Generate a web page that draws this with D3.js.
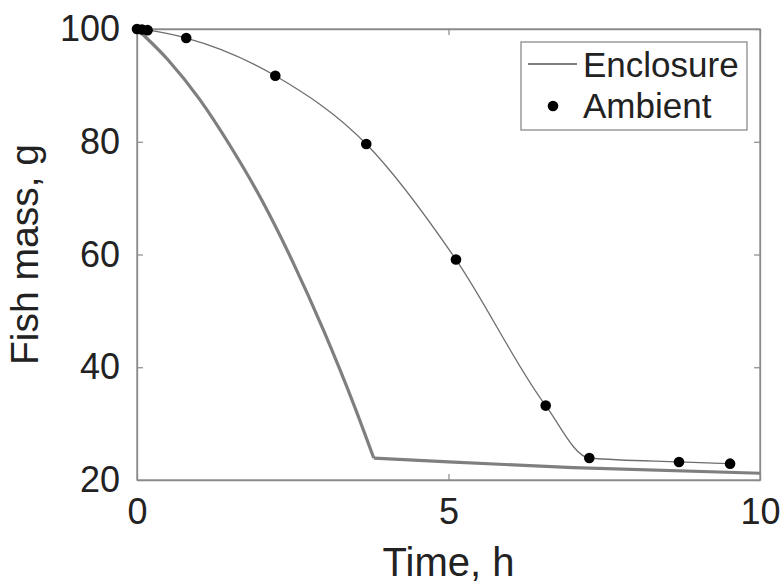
<!DOCTYPE html>
<html>
<head>
<meta charset="utf-8">
<script src="https://cdn.jsdelivr.net/npm/d3@7"></script>
<style>
  body { margin: 0; background: #fff; }
  text { font-family: "Liberation Sans", Arial, sans-serif; fill: #222; }
</style>
</head>
<body>
<div id="graph-container"></div>
<script>
const width = 782, height = 583;

// Enclosure model curve
const enclosureTime = [0, 0.5, 1.0, 1.5, 2.0, 2.5, 3.0, 3.5, 3.8, 5, 7, 10];
const enclosureMass = [100, 94.5, 87.6, 79.2, 69.7, 58.7, 46.4, 32.8, 23.9, 23.2, 22.2, 21.2];
const cornerIndex = 8; // where the curve turns flat

// Ambient measurements
const ambientTime = [0, 0.08, 0.17, 0.79, 2.22, 3.68, 5.12, 6.56, 7.26, 8.7, 9.52];
const ambientMass = [100, 99.9, 99.8, 98.4, 91.7, 79.6, 59.1, 33.2, 23.9, 23.2, 22.9];

const xTicks = [0, 5, 10];
const yTicks = [20, 40, 60, 80, 100];

const enclosure = enclosureTime.map((t, i) => ({t, m: enclosureMass[i]}));
const ambient = ambientTime.map((t, i) => ({t, m: ambientMass[i]}));

const x = d3.scaleLinear().domain([0, 10]).range([137, 760]);
const y = d3.scaleLinear().domain([20, 100]).range([480, 29]);

const axisColor = "#8a8a8a";

const svg = d3.select("#graph-container").append("svg")
  .attr("width", width)
  .attr("height", height)
  .attr("viewBox", [0, 0, width, height]);

// box
svg.append("rect")
  .attr("x", x(0)).attr("y", y(100))
  .attr("width", x(10) - x(0)).attr("height", y(20) - y(100))
  .attr("fill", "none").attr("stroke", axisColor).attr("stroke-width", 1.3);

// axes with inward ticks
const gx = svg.append("g")
  .attr("transform", `translate(0,${y(20)})`)
  .call(d3.axisBottom(x).tickValues(xTicks).tickSizeInner(-6).tickSizeOuter(0).tickPadding(18));
const gy = svg.append("g")
  .attr("transform", `translate(${x(0)},0)`)
  .call(d3.axisLeft(y).tickValues(yTicks).tickSizeInner(-6).tickSizeOuter(0).tickPadding(17));
// mirrored ticks on top and right
svg.append("g")
  .attr("transform", `translate(0,${y(100)})`)
  .call(d3.axisTop(x).tickValues(xTicks).tickSizeInner(-6).tickSizeOuter(0).tickFormat(""));
svg.append("g")
  .attr("transform", `translate(${x(10)},0)`)
  .call(d3.axisRight(y).tickValues(yTicks).tickSizeInner(-6).tickSizeOuter(0).tickFormat(""));

svg.selectAll(".domain").attr("stroke", axisColor).attr("stroke-width", 1.3);
svg.selectAll(".tick line").attr("stroke", axisColor).attr("stroke-width", 1.2);
svg.selectAll(".tick text")
  .attr("font-size", 36)
  .attr("font-family", "'Liberation Sans', Arial, sans-serif")
  .attr("fill", "#222");
gx.selectAll(".tick text").attr("dy", "0.71em");

// axis titles
svg.append("text")
  .attr("x", (x(0) + x(10)) / 2)
  .attr("y", 576)
  .attr("text-anchor", "middle")
  .attr("font-size", 40)
  .text("Time, h");

svg.append("text")
  .attr("transform", `translate(38,${(y(20) + y(100)) / 2}) rotate(-90)`)
  .attr("text-anchor", "middle")
  .attr("font-size", 39)
  .text("Fish mass, g");

// enclosure line (two pieces so the corner stays sharp)
const line = d3.line()
  .x(d => x(d.t))
  .y(d => y(d.m))
  .curve(d3.curveMonotoneX);

svg.append("path")
  .datum(enclosure.slice(0, cornerIndex + 1))
  .attr("fill", "none")
  .attr("stroke", "#7f7f7f")
  .attr("stroke-width", 3.2)
  .attr("d", line);
svg.append("path")
  .datum(enclosure.slice(cornerIndex))
  .attr("fill", "none")
  .attr("stroke", "#7f7f7f")
  .attr("stroke-width", 3.2)
  .attr("d", line);

// ambient fitted line + points
svg.append("path")
  .datum(ambient)
  .attr("fill", "none")
  .attr("stroke", "#6e6e6e")
  .attr("stroke-width", 1.3)
  .attr("d", line);

svg.selectAll("circle.amb")
  .data(ambient)
  .join("circle")
  .attr("class", "amb")
  .attr("cx", d => x(d.t))
  .attr("cy", d => y(d.m))
  .attr("r", 5.3)
  .attr("fill", "#000");

// legend
const legend = svg.append("g");
legend.append("rect")
  .attr("x", 521).attr("y", 42)
  .attr("width", 226).attr("height", 88)
  .attr("fill", "#fff")
  .attr("stroke", axisColor)
  .attr("stroke-width", 1.3);
legend.append("line")
  .attr("x1", 528).attr("x2", 577)
  .attr("y1", 64).attr("y2", 64)
  .attr("stroke", "#7f7f7f")
  .attr("stroke-width", 1.8);
legend.append("text")
  .attr("x", 583).attr("y", 77)
  .attr("font-size", 35)
  .text("Enclosure");
legend.append("circle")
  .attr("cx", 553).attr("cy", 106)
  .attr("r", 5.3)
  .attr("fill", "#000");
legend.append("text")
  .attr("x", 583).attr("y", 118)
  .attr("font-size", 35)
  .text("Ambient");
</script>
</body>
</html>
